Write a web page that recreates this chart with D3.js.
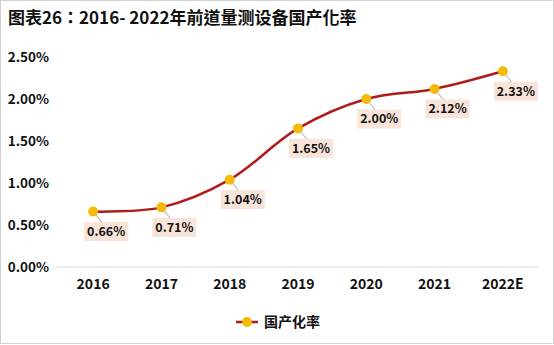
<!DOCTYPE html>
<html>
<head>
<meta charset="utf-8">
<script src="https://cdn.jsdelivr.net/npm/d3@7"></script>
<style>
  body { margin: 0; background: #fff; }
  text { font-family: "Microsoft YaHei", "Noto Sans CJK SC", sans-serif; font-weight: bold; fill: #111; }
</style>
</head>
<body>
<svg id="chart" width="554" height="345"></svg>
<script>
var years = ["2016", "2017", "2018", "2019", "2020", "2021", "2022E"];
var rates = [0.66, 0.71, 1.04, 1.65, 2.00, 2.12, 2.33];
var yTicks = [0, 0.5, 1.0, 1.5, 2.0, 2.5];
var seriesName = "国产化率";
var title = "图表26：2016- 2022年前道量测设备国产化率";

var svg = d3.select("#chart"),
    width = +svg.attr("width"),
    height = +svg.attr("height");

var lineColor = "#b01c1c",
    dotColor = "#f5b90a";

svg.append("rect")
    .attr("x", 0.5).attr("y", 0.5)
    .attr("width", width - 1).attr("height", height - 2)
    .attr("fill", "#fff")
    .attr("stroke", "#d0d0d0");

svg.append("text")
    .attr("x", 8).attr("y", 24)
    .attr("font-size", 17)
    .style("font-family", "\"Noto Sans CJK TC\", sans-serif")
    .text(title);

var x = d3.scaleBand().domain(years).range([59, 537]);
var y = d3.scaleLinear().domain([0, 2.5]).range([267, 57]);

// y axis labels
svg.append("g").selectAll("text")
    .data(yTicks)
    .enter().append("text")
    .attr("x", 49)
    .attr("y", function(d) { return y(d); })
    .attr("dy", "0.35em")
    .attr("text-anchor", "end")
    .attr("font-size", 13.5)
    .text(function(d) { return d.toFixed(2) + "%"; });

// x axis
svg.append("line")
    .attr("x1", 55).attr("x2", 538)
    .attr("y1", y(0)).attr("y2", y(0))
    .attr("stroke", "#d9d9d9");

svg.append("g").selectAll("text")
    .data(years)
    .enter().append("text")
    .attr("x", function(d) { return x(d) + x.bandwidth() / 2; })
    .attr("y", 289)
    .attr("text-anchor", "middle")
    .attr("font-size", 14)
    .text(function(d) { return d; });

var pts = years.map(function(d, i) {
  return { year: d, v: rates[i], px: x(d) + x.bandwidth() / 2, py: y(rates[i]) };
});

var line = d3.line()
    .x(function(d) { return d.px; })
    .y(function(d) { return d.py; })
    .curve(d3.curveCatmullRom.alpha(0.5));

svg.append("path")
    .datum(pts)
    .attr("d", line)
    .attr("fill", "none")
    .attr("stroke", lineColor)
    .attr("stroke-width", 2.5);

// leader lines + labels
var dx = 13, dy = 20;
var lab = svg.append("g").selectAll("g")
    .data(pts)
    .enter().append("g");

lab.append("line")
    .attr("x1", function(d) { return d.px; })
    .attr("y1", function(d) { return d.py; })
    .attr("x2", function(d) { return d.px + dx - 4; })
    .attr("y2", function(d) { return d.py + dy - 9; })
    .attr("stroke", "#a6a6a6")
    .attr("stroke-width", 1);

lab.append("rect")
    .attr("x", function(d) { return d.px + dx - 22; })
    .attr("y", function(d) { return d.py + dy - 9.5; })
    .attr("width", 44)
    .attr("height", 19)
    .attr("fill", "#f9e4da");

lab.append("text")
    .attr("x", function(d) { return d.px + dx; })
    .attr("y", function(d) { return d.py + dy; })
    .attr("dy", "0.35em")
    .attr("text-anchor", "middle")
    .attr("font-size", 12.5)
    .text(function(d) { return d.v.toFixed(2) + "%"; });

svg.append("g").selectAll("circle")
    .data(pts)
    .enter().append("circle")
    .attr("cx", function(d) { return d.px; })
    .attr("cy", function(d) { return d.py; })
    .attr("r", 5)
    .attr("fill", dotColor);

// legend
var lg = svg.append("g").attr("transform", "translate(236,322)");
lg.append("line").attr("x1", 0).attr("x2", 22).attr("y1", 0).attr("y2", 0)
    .attr("stroke", lineColor).attr("stroke-width", 2.5);
lg.append("circle").attr("cx", 11).attr("cy", 0).attr("r", 5).attr("fill", dotColor);
lg.append("text").attr("x", 28).attr("y", 0).attr("dy", "0.35em")
    .attr("font-size", 14).text(seriesName);
</script>
</body>
</html>
